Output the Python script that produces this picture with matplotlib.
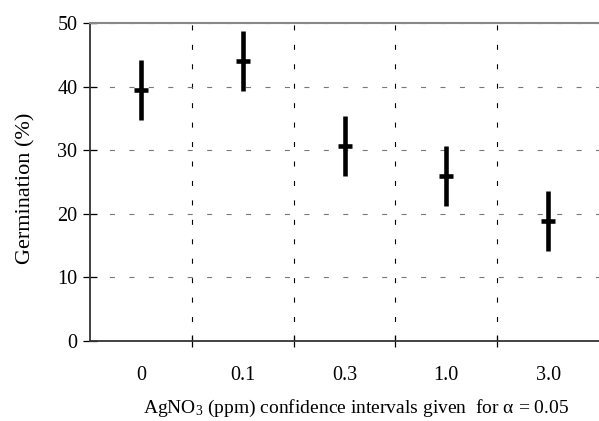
import numpy as np
import matplotlib
matplotlib.use('Agg')
import matplotlib.pyplot as plt

plt.rcParams['font.family'] = 'Liberation Serif'
plt.rcParams['mathtext.fontset'] = 'custom'
plt.rcParams['mathtext.rm'] = 'Liberation Serif'
plt.rcParams['mathtext.it'] = 'Liberation Serif:italic'

# AgNO3 doses and germination confidence intervals (alpha = 0.05)
doses = ['0', '0.1', '0.3', '1.0', '3.0']
germ_mean = [39.5, 44.0, 30.7, 26.0, 18.8]
germ_low = [34.8, 39.3, 25.9, 21.3, 14.1]
germ_high = [44.2, 48.7, 35.4, 30.7, 23.6]

fig = plt.figure(figsize=(5.99, 4.21), dpi=100)
ax = fig.add_axes([90 / 599, 80 / 421, 509 / 599, 318 / 421])

x = np.arange(len(doses))
ax.vlines(x, germ_low, germ_high, colors='k', lw=3.3, zorder=3)
ax.plot(x, germ_mean, ls='none', marker='_', ms=10, mew=3.3, color='k', zorder=4)

ax.set_xlim(-0.5, len(doses) - 0.5)
ax.set_ylim(0, 50)
ax.set_yticks(np.arange(0, 51, 10))
ax.set_xticks(x)
ax.set_xticklabels(doses)
ax.set_xticks(x[:-1] + 0.5, minor=True)
ax.tick_params(axis='x', which='major', length=0, pad=18, labelsize=14.5)
ax.tick_params(axis='x', which='minor', direction='inout', length=9, width=0.9)
ax.tick_params(axis='y', direction='inout', length=10, width=0.9,
               labelsize=14.5, pad=4)

ax.grid(axis='y', which='major', color='#777777', ls=(0, (4.5, 13)), lw=0.8)
ax.grid(axis='x', which='minor', color='k', ls=(0, (4.5, 13)), lw=0.8)
ax.set_axisbelow(True)

ax.spines['right'].set_visible(False)
ax.spines['top'].set_color('#888888')
ax.spines['top'].set_linewidth(1.5)
for s in ('left', 'bottom'):
    ax.spines[s].set_color('#333333')
    ax.spines[s].set_linewidth(1.3)

ax.set_ylabel('Germination (%)', fontsize=16, labelpad=16)
ax.yaxis.label.set_y(0.481)
ax.set_xlabel('AgNO$_3$ (ppm) confidence intervals given  for \u03b1 = 0.05',
              fontsize=14, labelpad=9)
ax.xaxis.label.set_x(0.523)

fig.savefig('out.png', dpi=100)
